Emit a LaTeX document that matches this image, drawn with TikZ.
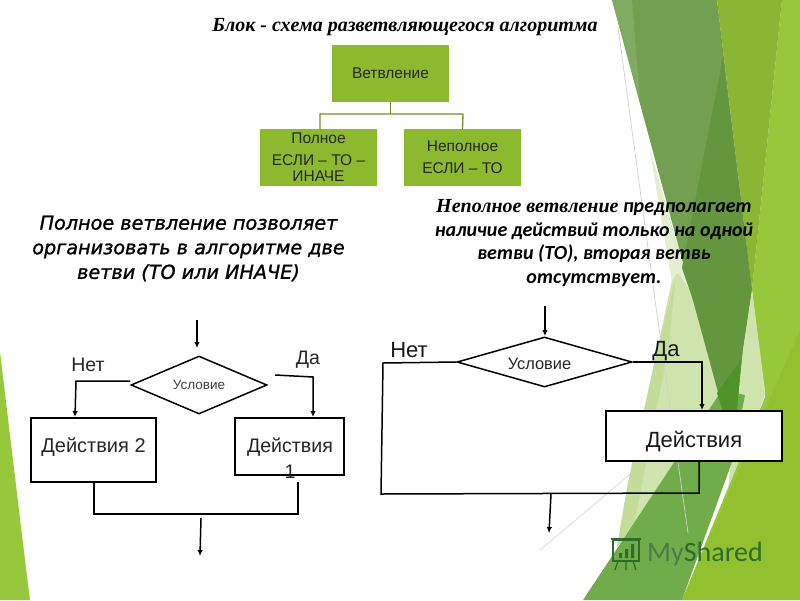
\documentclass[tikz,border=0pt]{standalone}
\usepackage{fontspec}
\setmainfont{Liberation Sans}
\newfontfamily\serifbi{Liberation Serif}
\newfontfamily\corbel{Carlito}
\newfontfamily\comic{DejaVu Sans}[ItalicFeatures={FakeBold=1.2}]
\newfontfamily\mysh{Carlito}
\usetikzlibrary{shapes.geometric,arrows.meta}
\definecolor{leaf}{HTML}{8DB92E}
\definecolor{stem}{HTML}{6F8F26}
\definecolor{lime}{HTML}{97C73B}
\definecolor{limeb}{HTML}{92C130}
\definecolor{band}{HTML}{8AB733}
\definecolor{forest}{HTML}{72A050}
\definecolor{foresta}{HTML}{80AB62}
\definecolor{forestb}{HTML}{64963F}
\definecolor{forestc}{HTML}{4F922A}
\definecolor{moss}{HTML}{70AD4A}
\definecolor{pale}{HTML}{CFE3AC}
\definecolor{palec}{HTML}{E4EFD2}
\definecolor{paleb}{HTML}{C3DD98}
\definecolor{hairline}{HTML}{CFCFCF}
\definecolor{marks}{HTML}{2F6B2B}
\definecolor{marksb}{HTML}{4E7A48}
\newcommand{\fs}[2]{\fontsize{#1}{#2}\selectfont}
\tikzset{
  sharp/.style={line width=1.5pt,draw=black,line join=miter},
  flow/.style={sharp,-{Latex[length=6pt,width=5.5pt]}},
  plainbox/.style={rectangle,draw=black,line width=1.5pt,fill=white,inner sep=0pt},
  cond/.style={diamond,draw=black,line width=1.5pt,inner sep=0pt,fill=white},
  leafbox/.style={rectangle,fill=leaf,inner sep=0pt,minimum width=117pt,minimum height=57pt,align=center,text=black!85},
  stemline/.style={draw=stem,line width=1.3pt},
}
\begin{document}
\begin{tikzpicture}[x=1pt,y=-1pt]
\useasboundingbox (0,0) rectangle (800,600);
\fill[white] (0,0) rectangle (800,600);
% background
\fill[lime] (0,352) -- (25,560) -- (30,600) -- (0,600) -- cycle;
\fill[pale] (650,150) -- (693,300) -- (723,410) -- (617,547) -- (628,483) -- (655,360) -- (672,280) -- cycle;
\fill[palec] (650,150) -- (678,250) -- (690,290) -- (678,273) -- (672,280) -- cycle;
\fill[paleb] (676,275) -- (670,300) -- (655,360) -- (628,483) -- (617,547) -- (635,520) -- (668,350) -- cycle;
\fill[lime] (782,0) -- (800,0) -- (800,600) -- (682,600) -- (728,488) -- (765,397) -- (752,290) -- cycle;
\fill[limeb] (800,330) -- (800,600) -- (682,600) -- cycle;
\fill[band] (717,0) -- (782,0) -- (752,290) -- cycle;
\fill[forest] (612,0) -- (717,0) -- (752,290) -- (743,350) -- (737,410) -- (723,410) -- (693,300) -- cycle;
\fill[foresta] (612,0) -- (632,0) -- (640,100) -- cycle;
\fill[forestb] (723,57) -- (752,290) -- (743,350) -- (737,410) -- (723,410) -- (693,300) -- (682,268) -- cycle;
\fill[pale] (752,290) -- (765,390) -- (764,398) -- (728,488) -- (737,410) -- (743,350) -- cycle;
\fill[moss] (583,600) -- (722,390) -- (745,395) -- (732,462) -- (682,600) -- cycle;
\fill[forestc] (717,393) -- (741,360) -- (737,412) -- (723,412) -- cycle;
\draw[hairline,line width=.7pt] (618,27) -- (655,300) -- (688,533);
\draw[hairline,line width=.5pt] (540,550) -- (647,460);
% watermark
\node[anchor=west,font=\mysh\fs{28}{30},inner sep=0pt] (brand) at (647,554) {\textcolor{marksb}{My}\textcolor{marks}{Shared}};
\draw[marks,line width=1.6pt] (613,540) rectangle (639,561);
\draw[marks,line width=2pt] (611,539) -- (641,539);
\fill[marks] (619,553) rectangle (622,558) (625,549) rectangle (628,558) (631,544) rectangle (634,558);
\draw[marks,line width=1.2pt] (618,561) -- (615,570) (626,561) -- (626,570) (633,561) -- (636,570);
% title
\node[inner sep=0pt,font=\serifbi\bfseries\itshape\fs{20}{22}] (title) at (405,27) {Блок - схема разветвляющегося алгоритма};
% org chart
\node[leafbox,font=\fs{15.5}{17}] (root) at (390.5,73.5) {Ветвление};
\node[leafbox,font=\fs{15.5}{16}] (full) at (318.5,157.5) {Полное\\[6pt]ЕСЛИ – ТО –\\ИНАЧЕ};
\node[leafbox,font=\fs{15.5}{16}] (part) at (462.5,157.5) {Неполное\\[6pt]ЕСЛИ – ТО};
\coordinate (fork) at (390.5,114);
\draw[stemline] (root.south) -- (fork);
\draw[stemline] (320,129) -- (320,114) -- (463,114) -- (part.north);
% paragraphs
\node[inner sep=0pt,align=center,font=\comic\itshape\fs{19.2}{24.6}] (lefttext) at (188.5,248.5) {Полное ветвление позволяет\\организовать в алгоритме две\\ветви (ТО или ИНАЧЕ)};
\node[inner sep=0pt,align=center,font=\corbel\bfseries\itshape\fs{20}{23.5}] (righttext) at (594,243) {{\serifbi\bfseries\itshape\fs{20}{23.5}Неполное ветвление} предполагает\\наличие действий только на одной\\ветви (ТО), вторая ветвь\\отсутствует.};
% left flow
\node[cond,aspect=2.34,minimum width=136pt,minimum height=58pt,font=\fs{13.5}{15},text=black!75] (dl) at (199,385) {Условие};
\node[plainbox,minimum width=125pt,minimum height=64pt,font=\fs{20}{22},text=black!85,text height=4.4pt,text depth=0pt] (a2) at (93.5,450) {Действия 2};
\node[plainbox,minimum width=109pt,minimum height=57pt] (a1) at (289.5,446.5) {};
\node[inner sep=0pt,align=center,font=\fs{19.6}{26},text=black!85] (a1text) at (290,458) {Действия\\1};
\node[inner sep=0pt,font=\fs{19.5}{21},text=black!85] (nol) at (88,365) {Нет};
\node[inner sep=0pt,font=\fs{19.5}{21},text=black!85] (yl) at (308,360) {Да};
\coordinate (inl) at (197,320);
\coordinate (inlend) at (197,348);
\draw[flow] (inl) -- (inlend);
\coordinate (ls) at (130,381);
\coordinate (lr) at (275,375);
\draw[flow] (ls) -- (76,381) -- (75,417);
\draw[flow] (lr) -- (313,377) -- (313,417);
\draw[sharp] (94,482) -- (94,514) -- (298,514) -- (298,482);
\coordinate (outl) at (201,518);
\coordinate (outlend) at (200,556);
\draw[flow] (outl) -- (outlend);
% right flow
\node[cond,aspect=3.5,minimum width=175pt,minimum height=50pt,font=\fs{16.4}{18},text=black!85,text height=14pt,text depth=0pt] (dr) at (544.5,362) {\kern-10pt Условие};
\node[plainbox,minimum width=176pt,minimum height=50pt,font=\fs{22}{24},text=black!90,text height=22pt,text depth=0pt] (act) at (694,436) {Действия};
\node[inner sep=0pt,font=\fs{22}{24},text=black!90] (nor) at (409,350) {Нет};
\node[inner sep=0pt,font=\fs{22}{24},text=black!90] (yr) at (666,351) {Да};
\coordinate (inr) at (545,306);
\coordinate (inrend) at (545,336);
\draw[flow] (inr) -- (inrend);
\draw[sharp] (dr.west) -- (383,363) -- (381,494) -- (699,493) -- (699,461);
\draw[flow] (dr.east) -- (702,362) -- (702,410);
\coordinate (outr) at (551,494);
\coordinate (outrend) at (549,533);
\draw[flow] (outr) -- (outrend);
\end{tikzpicture}
\end{document}
